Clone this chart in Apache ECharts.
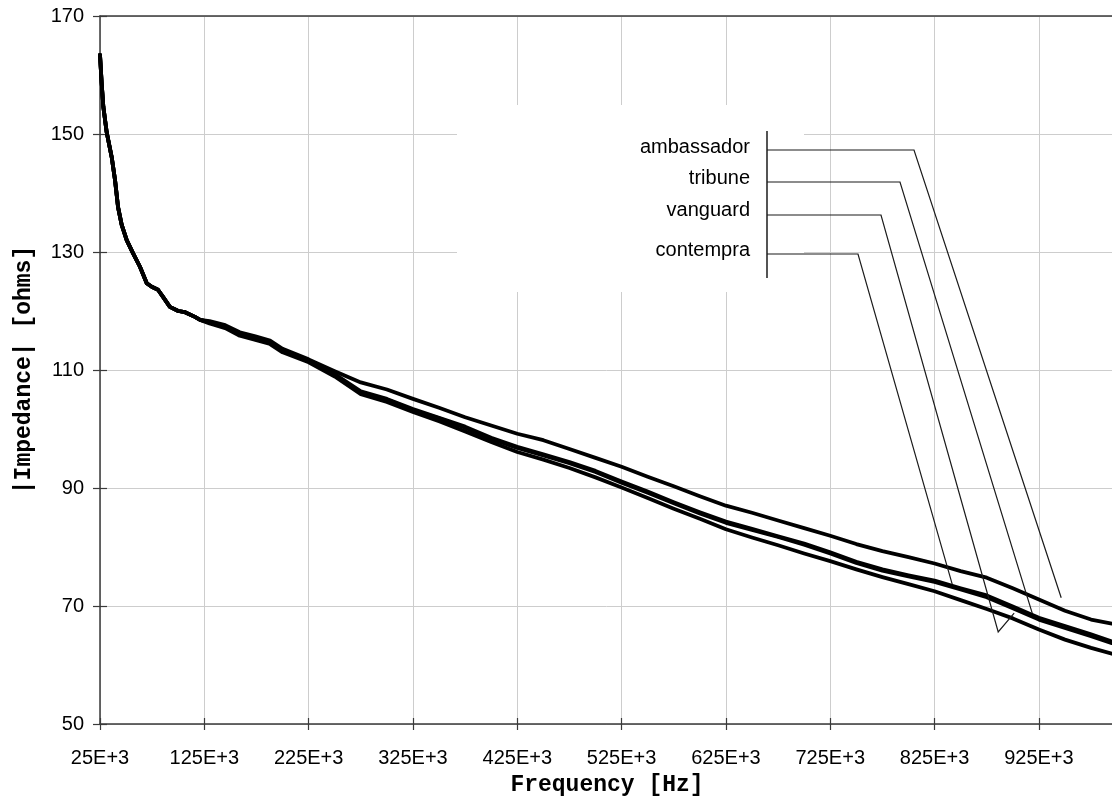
<!DOCTYPE html>
<html>
<head>
<meta charset="utf-8">
<script src="https://cdn.jsdelivr.net/npm/echarts@6/dist/echarts.min.js"></script>
<style>
  html, body { margin: 0; padding: 0; background: #fff; }
  #chart { width: 1112px; height: 800px; }
</style>
</head>
<body>
<div id="chart"></div>
<script>
// Impedance magnitude of four speaker cables versus frequency
const seriesNames = ['ambassador', 'tribune', 'vanguard', 'contempra'];

const frequencyHz = [
  25000, 26600, 28200, 31400, 36200, 39400, 42300, 45800, 50600, 56600,
  63300, 69800, 74600, 80600, 85400, 92000, 100000, 106500, 116000, 121000,
  130000, 145000, 159000, 174000, 188000,
  200000, 225000, 250000, 275000, 300000, 325000, 350000, 375000, 400000, 425000,
  450000, 475000, 500000, 525000, 550000, 575000, 600000, 625000, 650000, 675000,
  700000, 725000, 750000, 775000, 800000, 825000, 850000, 875000, 900000, 925000,
  950000, 975000, 995000
];

const ambassador = [
  163.4, 158.6, 154.6, 150.3, 146.1, 142.2, 137.6, 134.6, 132.0, 129.8,
  127.5, 124.7, 124.1, 123.6, 122.4, 120.7, 120.0, 119.8, 119.0, 118.5,
  118.3, 117.6, 116.4, 115.7, 115.0,
  113.6, 111.8, 109.8, 107.9, 106.7, 105.1, 103.6, 102.0, 100.6, 99.2,
  98.1, 96.6, 95.1, 93.6, 91.9, 90.3, 88.6, 87.0, 85.8, 84.5,
  83.2, 81.9, 80.5, 79.3, 78.3, 77.2, 75.9, 74.8, 73.0, 71.1,
  69.2, 67.7, 67.0
];

const tribune = [
  163.4, 158.6, 154.6, 150.3, 146.1, 142.2, 137.6, 134.6, 132.0, 129.8,
  127.5, 124.7, 124.1, 123.6, 122.4, 120.7, 120.0, 119.8, 119.0, 118.5,
  118.1, 117.3, 116.0, 115.3, 114.6,
  113.2, 111.5, 109.2, 106.2, 105.0, 103.2, 101.8, 100.2, 98.3, 96.8,
  95.5, 94.2, 92.7, 90.9, 89.2, 87.4, 85.7, 84.1, 82.9, 81.7,
  80.4, 78.9, 77.3, 76.0, 75.0, 74.1, 72.8, 71.5, 69.6, 67.7,
  66.3, 64.9, 63.7
];

const vanguard = [
  163.4, 158.6, 154.6, 150.3, 146.1, 142.2, 137.6, 134.6, 132.0, 129.8,
  127.5, 124.7, 124.1, 123.6, 122.4, 120.7, 120.0, 119.8, 119.0, 118.5,
  117.9, 117.1, 115.8, 115.1, 114.4,
  113.0, 111.3, 108.9, 105.9, 104.6, 102.9, 101.3, 99.6, 97.8, 96.1,
  94.8, 93.4, 91.8, 90.1, 88.3, 86.5, 84.8, 83.0, 81.6, 80.3,
  78.9, 77.6, 76.2, 74.9, 73.7, 72.5, 71.0, 69.5, 67.9, 66.0,
  64.3, 62.9, 61.9
];

const contempra = [
  163.4, 158.6, 154.6, 150.3, 146.1, 142.2, 137.6, 134.6, 132.0, 129.8,
  127.5, 124.7, 124.1, 123.6, 122.4, 120.7, 120.0, 119.8, 119.0, 118.5,
  118.1, 117.4, 116.1, 115.4, 114.7,
  113.3, 111.6, 109.3, 106.4, 105.1, 103.4, 101.9, 100.4, 98.5, 97.0,
  95.7, 94.4, 92.9, 91.1, 89.4, 87.6, 85.9, 84.3, 83.1, 81.8,
  80.6, 79.1, 77.5, 76.2, 75.2, 74.3, 73.0, 71.8, 69.9, 68.0,
  66.6, 65.2, 64.0
];

const freqTickLabels = ['25E+3', '125E+3', '225E+3', '325E+3', '425E+3',
                        '525E+3', '625E+3', '725E+3', '825E+3', '925E+3'];

// Where each callout leader meets its curve (frequency, impedance)
const leaderTargets = {
  ambassador: [[946400, 71.4]],
  tribune: [[918600, 68.8]],
  vanguard: [[886000, 65.6], [901300, 68.8]],
  contempra: [[841900, 73.7]]
};

const valuesByName = { ambassador, tribune, vanguard, contempra };

const X_MIN = 25000, X_MAX = 997000, X_STEP = 100000;
const Y_MIN = 50, Y_MAX = 170, Y_STEP = 20;

const axisColor = '#3a3a3a';
const gridColor = '#cdcdcd';
const sansFont = '"Liberation Sans", Arial, sans-serif';
const monoFont = '"Liberation Mono", "Courier New", monospace';

const chart = echarts.init(document.getElementById('chart'), null, { renderer: 'canvas' });

const xBase = { type: 'value', min: X_MIN, max: X_MAX, interval: X_STEP, gridIndex: 0 };
const yBase = { type: 'value', min: Y_MIN, max: Y_MAX, interval: Y_STEP, gridIndex: 0 };

const option = {
  animation: false,
  backgroundColor: '#fff',
  grid: { left: 100, right: -2, top: 16, bottom: 76, containLabel: false, outerBoundsMode: 'none' },
  xAxis: [
    Object.assign({}, xBase, {
      position: 'bottom',
      axisLine: { show: true, onZero: false, lineStyle: { color: axisColor, width: 1.5 } },
      axisTick: { show: true, inside: false, length: 6, lineStyle: { color: axisColor, width: 1.2 } },
      axisLabel: {
        show: true, margin: 24, color: '#000', fontSize: 20, fontFamily: sansFont,
        showMaxLabel: false,
        formatter: function (v) {
          const i = Math.round((v - X_MIN) / X_STEP);
          return freqTickLabels[i] || '';
        }
      },
      splitLine: { show: true, lineStyle: { color: gridColor, width: 1 } },
      name: 'Frequency [Hz]',
      nameLocation: 'middle',
      nameGap: 50,
      nameTextStyle: { color: '#000', fontSize: 23, fontWeight: 'bold', fontFamily: monoFont }
    }),
    Object.assign({}, xBase, {
      position: 'bottom',
      axisLine: { show: false, onZero: false },
      axisTick: { show: true, inside: true, length: 6, lineStyle: { color: axisColor, width: 1.2 } },
      axisLabel: { show: false },
      splitLine: { show: false }
    }),
    Object.assign({}, xBase, {
      position: 'top',
      axisLine: { show: true, onZero: false, lineStyle: { color: axisColor, width: 1.5 } },
      axisTick: { show: false },
      axisLabel: { show: false },
      splitLine: { show: false }
    })
  ],
  yAxis: [
    Object.assign({}, yBase, {
      position: 'left',
      axisLine: { show: true, onZero: false, lineStyle: { color: axisColor, width: 1.5 } },
      axisTick: { show: true, inside: false, length: 7, lineStyle: { color: axisColor, width: 1.2 } },
      axisLabel: { show: true, margin: 16, color: '#000', fontSize: 20, fontFamily: sansFont },
      splitLine: { show: true, lineStyle: { color: gridColor, width: 1 } },
      name: '|Impedance| [ohms]',
      nameLocation: 'middle',
      nameRotate: 90,
      nameGap: 64,
      nameTextStyle: { color: '#000', fontSize: 23, fontWeight: 'bold', fontFamily: monoFont }
    }),
    Object.assign({}, yBase, {
      position: 'left',
      axisLine: { show: false, onZero: false },
      axisTick: { show: true, inside: true, length: 7, lineStyle: { color: axisColor, width: 1.2 } },
      axisLabel: { show: false },
      splitLine: { show: false }
    })
  ],
  series: seriesNames.map(function (name) {
    return {
      name: name,
      type: 'line',
      xAxisIndex: 0,
      yAxisIndex: 0,
      showSymbol: false,
      symbol: 'none',
      smooth: false,
      silent: true,
      z: 3,
      lineStyle: { color: '#000', width: 3.8, join: 'round', cap: 'round' },
      data: frequencyHz.map(function (f, i) { return [f, valuesByName[name][i]]; })
    };
  })
};

chart.setOption(option);

// Callout block: label column, bracket bar and leaders bent down to the curves
const calloutRows = [
  { name: 'ambassador', labelY: 147, lineY: 150, bendX: 914 },
  { name: 'tribune',    labelY: 178, lineY: 182, bendX: 900 },
  { name: 'vanguard',   labelY: 210, lineY: 215, bendX: 881 },
  { name: 'contempra',  labelY: 250, lineY: 254, bendX: 858 }
];
const calloutBox = { x: 457, y: 105, width: 347, height: 187 };
const barX = 767, barTop = 131, barBottom = 278, labelRight = 750;

const graphics = [
  {
    type: 'rect', z: 1, silent: true,
    shape: { x: calloutBox.x, y: calloutBox.y, width: calloutBox.width, height: calloutBox.height },
    style: { fill: '#fff', stroke: null }
  },
  {
    type: 'line', z: 10, silent: true,
    shape: { x1: barX, y1: barTop, x2: barX, y2: barBottom },
    style: { stroke: '#2a2a2a', lineWidth: 1.6 }
  }
];

calloutRows.forEach(function (row) {
  graphics.push({
    type: 'text', z: 10, silent: true,
    x: labelRight, y: row.labelY,
    style: {
      text: row.name, fill: '#000', fontSize: 20, fontFamily: sansFont,
      align: 'right', verticalAlign: 'middle'
    }
  });
  const pts = [[barX, row.lineY], [row.bendX, row.lineY]];
  leaderTargets[row.name].forEach(function (p) {
    pts.push(chart.convertToPixel({ xAxisIndex: 0, yAxisIndex: 0 }, p));
  });
  graphics.push({
    type: 'polyline', z: 10, silent: true,
    shape: { points: pts },
    style: { stroke: '#1a1a1a', lineWidth: 1.2, fill: null }
  });
});

chart.setOption({ graphic: graphics });
</script>
</body>
</html>
